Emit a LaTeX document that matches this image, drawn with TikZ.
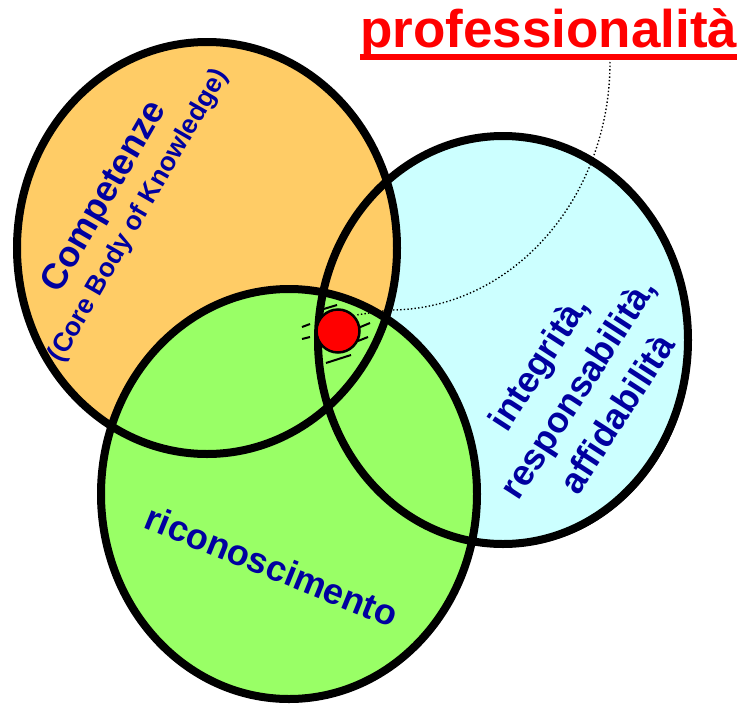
\documentclass[tikz,border=0pt]{standalone}
\usepackage{fontspec}
\setmainfont{Liberation Sans}
\definecolor{arancio}{RGB}{255,204,102}
\definecolor{azzurro}{RGB}{204,255,255}
\definecolor{verde}{RGB}{153,255,102}
\definecolor{blu}{RGB}{0,0,160}
\begin{document}
\begin{tikzpicture}[x=1pt,y=-1pt]
        \useasboundingbox (0,0) rectangle (741,704);
        \coordinate (C) at (207,248);
        \coordinate (E) at (503,340);
        \coordinate (R) at (289,494);
        \coordinate (P) at (338,331);
        % fills (blue has a small shadow)
        \fill[black] ([shift={(3,3)}]E) ellipse [x radius=185,y radius=204];
        \fill[azzurro] (E) ellipse [x radius=185,y radius=204];
        \fill[arancio] (C) ellipse [x radius=190,y radius=206];
        \fill[verde] (R) ellipse [x radius=188,y radius=205];
        % hatching round the dot
        \foreach \a/\b/\c/\d in {317/311/337/305,302/327/310/324,302/339/310/337,
                                 358/328/370/323,358/341/368/337,326/363/351/355,315/349/320/347}
            \draw[line width=2pt] (\a,\b)--(\c,\d);
        \foreach \n/\rx/\ry in {E/185/204,C/190/206,R/188/205}
            \draw[line width=8pt] (\n) ellipse [x radius=\rx,y radius=\ry];
        \draw[line width=1.4pt,dash pattern=on 1.4pt off 2.2pt]
            (610,62) arc [start angle=0,end angle=90,x radius=220,y radius=248] -- (356,315);
        \foreach \x in {342,346,350}
            \draw[line width=0.6pt] (\x-1.6,316)--(\x+1.6,316) (\x,314.4)--(\x,317.6);
        \node at (P)[circle,fill=red,draw=black,line width=2.5pt,minimum size=43pt,inner sep=0pt] (dot) {};
        % labels
        \node[red,inner sep=0pt,anchor=base west,font=\bfseries\fontsize{53}{60}\selectfont] (T) at (360,47) {professionalità};
        \draw[red,line width=6pt] ([yshift=-10pt]T.base west) -- ([yshift=-10pt]T.base east);
        \node[blu,rotate=60,inner sep=0pt,font=\bfseries\fontsize{36}{42}\selectfont] (comp) at (105,197) {Competenze};
        \node[blu,rotate=60,inner sep=0pt,font=\bfseries\fontsize{26.5}{30}\selectfont] (cbok) at (139,216) {(Core Body of Knowledge)};
        \node[blu,rotate=57,inner sep=0pt,align=center,font=\bfseries\fontsize{36}{42}\selectfont] (etica) at (577,388)
            {integrità,\\[5pt]responsabilità,\\[5pt]affidabilità};
        \node[blu,rotate=-22,inner sep=0pt,font=\bfseries\fontsize{36}{42}\selectfont] (ric) at (272,566) {riconoscimento};
\end{tikzpicture}
\end{document}
